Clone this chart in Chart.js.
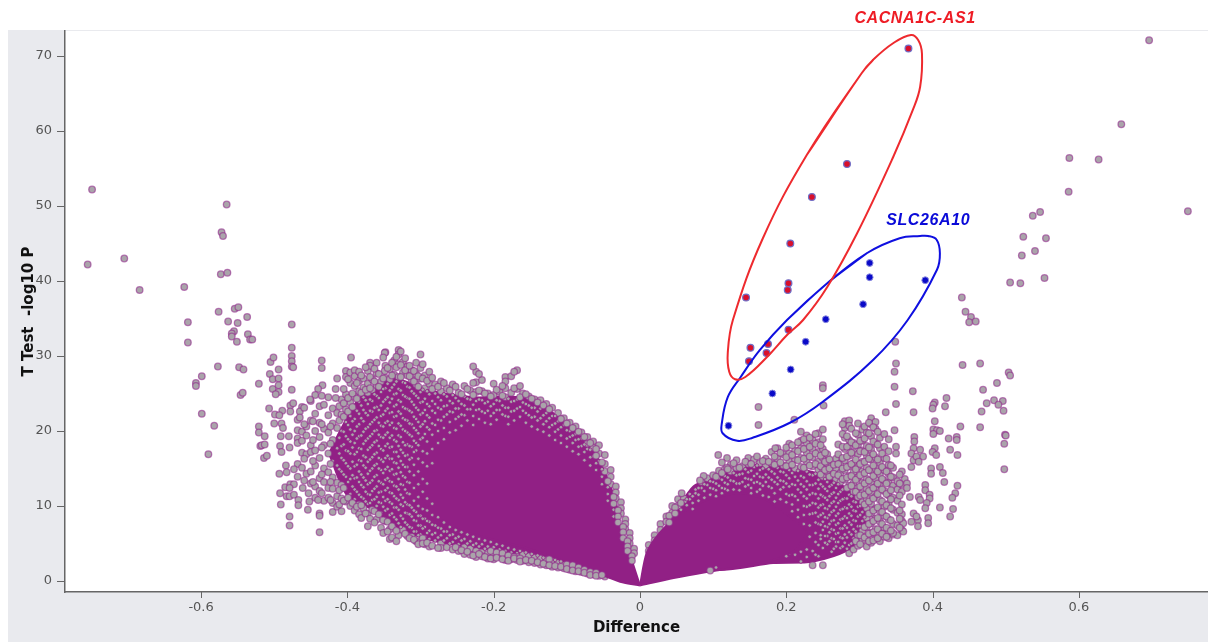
<!DOCTYPE html>
<html><head><meta charset="utf-8">
<style>html,body{margin:0;padding:0;background:#fff}#w{width:1208px;height:642px}canvas{filter:blur(.5px)}</style>
<script src="https://cdn.jsdelivr.net/npm/chart.js@4"></script></head>
<body><div id="w"><canvas id="c" width="1208" height="642"></canvas></div>
<script>
const xTicks=[-0.75,-0.7,-0.65,-0.6,-0.55,-0.5,-0.45,-0.4,-0.35,-0.3,-0.25,-0.2,-0.15,-0.1,-0.05,0,0.05,0.1,0.15,0.2,0.25,0.3,0.35,0.4,0.45,0.5,0.55,0.6,0.65,0.7,0.75];
const yTicks=[0,2,4,6,8,10,12,14,16,18,20,22,24,26,28,30,32,34,36,38,40,42,44,46,48,50,52,54,56,58,60,62,64,66,68,70,72];
const xLabels=[-0.6,-0.4,-0.2,0,0.2,0.4,0.6];
const yLabels=[0,10,20,30,40,50,60,70];
const outliers=[[-.749,52.2],[-.755,42.2],[-.705,43],[-.684,38.8],[-.623,39.2],[-.618,34.5],[-.618,31.8],[-.599,27.3],[-.607,26.4],[-.607,26],[-.599,22.3],[-.582,20.7],[-.59,16.9],[-.577,28.6],[-.565,50.2],[-.572,46.5],[-.57,46],[-.573,40.9],[-.564,41.1],[-.576,35.9],[-.563,34.6],[-.554,36.3],[-.549,36.5],[-.55,34.4],[-.537,35.2],[-.555,33.3],[-.558,33],[-.558,32.6],[-.551,31.9],[-.536,32.9],[-.533,32.2],[-.53,32.2],[-.548,28.5],[-.542,28.2],[-.546,24.8],[-.543,25.1],[-.521,26.3],[-.521,20.6],[-.521,19.8],[-.513,19.3],[-.519,18],[-.517,18.1],[-.513,18.2],[-.514,16.4],[-.51,16.7],[-.507,23],[-.506,27.6],[-.505,29.2],[-.501,29.8],[-.502,26.9],[-.494,27],[-.494,28.2],[-.502,25.6],[-.494,26.1],[-.494,25.2],[-.498,24.9],[-.489,22.7],[-.499,22.2],[-.493,22.1],[-.5,21],[-.49,21],[-.488,20.4],[-.491,19.3],[-.48,19.3],[-.492,18],[-.49,17.2],[-.479,17.8],[-.476,34.2],[-.476,31.1],[-.476,30],[-.476,29.3],[-.476,28.6],[-.474,28.5],[-.476,25.5],[-.478,23.4],[-.474,23.7],[-.478,22.6],[-.493,14.3],[-.484,15.4],[-.483,14.5],[-.473,14.9],[-.485,12.5],[-.478,12.9],[-.473,12.9],[-.479,12.4],[-.492,11.7],[-.483,11.3],[-.479,11.3],[-.473,11.5],[-.491,10.2],[-.467,10.8],[-.467,10.1],[-.479,8.6],[-.479,7.4],[-.461,12.4],[-.453,11.7],[-.452,10.6],[-.454,9.5],[-.44,10.8],[-.438,9],[-.438,8.7],[-.438,6.5],[-.465,22.6],[-.459,23.1],[-.465,21.8],[-.435,29.4],[-.435,28.4],[-.395,29.8],[-.434,26.1],[-.44,25.6],[-.444,24.8],[-.451,24.2],[-.416,25.6],[-.416,24.4],[-.369,29.1],[-.369,28.7],[-.349,28],[-.349,30.4],
[.696,72.1],[.658,60.9],[.587,56.4],[.627,56.2],[.586,51.9],[.749,49.3],[.547,49.2],[.537,48.7],[.524,45.9],[.555,45.7],[.54,44],[.522,43.4],[.506,39.8],[.52,39.7],[.553,40.4],[.44,37.8],[.445,35.9],[.4525,35.2],[.45,34.5],[.459,34.6],[.349,31.9],[.35,29],[.348,27.9],[.348,25.9],[.35,23.6],[.336,22.5],[.373,25.3],[.374,22.5],[.348,20.1],[.441,28.8],[.465,29],[.504,27.8],[.506,27.4],[.488,26.4],[.469,25.5],[.484,24.1],[.474,23.7],[.496,24],[.49,23.5],[.497,22.7],[.467,22.6],[.465,20.5],[.499,19.5],[.5,19.4],[.498,18.3],[.498,14.9],[.419,24.4],[.403,23.8],[.401,23.5],[.4,23],[.417,23.3],[.403,21.3],[.438,20.6],[.401,20.2],[.406,20.1],[.41,20],[.401,19.6],[.422,19],[.433,19.2],[.433,18.8],[.424,17.5],[.434,16.8],[.403,17.7],[.4,17.2],[.405,16.8],[.398,15],[.398,14.3],[.41,15.2],[.414,14.4],[.416,13.2],[.434,12.7],[.431,11.7],[.427,11.1],[.41,9.8],[.428,9.6],[.424,8.6],[.394,8.4],[.394,7.7],[.39,12.8],[.39,12.1],[.396,11.5],[.396,11],[.392,10.4],[.39,9.7],[.38,8.1],[.38,7.3],[.375,19.2],[.375,18.6],[.374,17.7],[.371,17],[.374,16.1],[.371,15.2],[.383,17.5],[.387,16.6],[.378,16.6],[.381,15.9],[.35,17.9],[.35,17],[.362,13.6],[.365,13],[.365,12.4],[.381,11.2],[.369,11.2],[.383,10.8],[.374,9],[.378,8.6],[.371,7.9],[.36,7.7],[.36,6.6],[.346,6.4],[.25,26.1],[.25,25.7],[.162,23.2],[.162,20.8],[.251,23.4],[.211,21.5],[.185,17.7],[.107,16.8],[.119,16.4],[.112,15.8],[.119,15.1],[.087,14],[.082,13.4],[.057,11.7],[.062,10.6]];
const leftColX=[-.468,-.462,-.456,-.45,-.444,-.438,-.432,-.426,-.42,-.414,-.408,-.402,-.396,-.39,-.384,-.378,-.372,-.366,-.36,-.354,-.348,-.342,-.336,-.33,-.324,-.318,-.312,-.306,-.3,-.294,-.288,-.28,-.272,-.264,-.256,-.248,-.24,-.232,-.224,-.216,-.208,-.2,-.192,-.184,-.176,-.168,-.16,-.152,-.144,-.136,-.128,-.12,-.112,-.104,-.096,-.088,-.08,-.072,-.064,-.056,-.048,-.04,-.033,-.026,-.02,-.014,-.008];
const leftColY=[
[20.1,19,18.4,15.6,13.9,21.5],[18.7,17.1,15.1,19.9,23.2],[19.4,20.6,16.9,14.3],[21.4,18.1,14.6,13,17.2,24],[22.3,20,17.4,12.6,11.1,15.4],[21.1,19.2,16.4,13.7,12,23.3],[23.5,20.3,18.1,15,13.2,10.7],[22.1,19.8,17,14.5,12.4,11.1,24.5],[23,21,18.8,16,13.8,12.3,10.4,9.2],[22.4,20.4,17.7,15.4,13.1,11.3,9.9,27],[24.2,22.2,20,18,16.4,14.6,12.8,11,9.3],[28,27.2,24.9,22.9,21.2,19.3,17.4,15.7,13.9,12.3,10.6],[27.8,26.4,23.8,22,20.2,18.6,17,15,13.6,11.6,10],
[28.1,27.3,26,24.6,23,21.6,20,18.4,16.9,15.3,13.7,12.2,10.9,9.4],[27.9,26.7,25.3,23.9,22.3,20.9,19.3,17.7,16.1,14.6,13.2,11.5,10.2,8.9],[27,25.8,24.5,22.8,21.3,19.9,18.3,16.7,15.4,13.8,12.5,11,9.7],[28,26.3,25.1,23.6,22.1,20.5,19,17.5,15.9,14.3,12.9,11.6,10.3,9,7.3],[26.9,25.5,24,22.6,21.2,19.6,18.1,16.5,15,13.4,12,10.8,9.5],[29.1,27.7,26.1,24.7,23.2,21.8,20.1,18.7,17.1,15.6,14.1,12.6,11.2,10,8.2],[26.6,25.2,23.4,22,20.7,19.2,17.6,16.2,14.8,13.1,11.9,10.4,9.1,7.1],[30.5,28.7,27.1,25.7,24.2,22.7,21.1,19.5,18,16.4,14.9,13.5,12.1,10.7,9.4,8],[28.2,26.9,25.4,23.8,22.4,20.8,19.1,17.8,16.3,14.7,13.3,11.8,10.5,8.8,6.9,5.6],[29.4,27.5,26.2,24.9,23.3,21.9,20.4,18.8,17.2,15.8,14.2,12.7,11.3,9.8,8.5],[30.8,30.2,28.9,27.2,25.6,24.1,22.6,21,19.4,18,16.6,15.1,13.6,12.2,10.8,9.5,7.7,6.1],[29.2,27.8,26.5,24.8,23.2,21.7,20.2,18.5,17.1,15.5,14,12.8,11.1,10,8.3,6.8],[28.6,27.4,25.9,24.4,22.9,21.4,19.8,18.2,16.8,15.2,13.2,11.7,10.2,9,7.5,6],[28.1,26.8,25.3,23.9,22.5,20.9,19.3,17.9,16.4,9.8,8.6,7.1,5.9],[29.1,27.6,26.2,24.7,23.1,21.6,20.1,18.4,17.4,9.2,8,6.6,5.3],[30.2,28.4,27,25.2,23.8,22.2,20.6,18.9,8.7,7.4,6.2,5.2],[27.4,25.7,24.3,22.8,21.3,19.6,8.3,7.2,5.9,4.9],[27.9,26.3,24.9,23.3,21.8,20.2,7.9,6.7,5.6,4.6],[26.2,25,23.6,22.4,20.8,7.4,6.4,5.4],[26.6,25.3,24.1,22.9,21.4,7,6.1,5,4.4],[25.7,24.6,23.4,22.2,6.6,5.7,4.5],[26.2,24.8,23.7,22.5,6.2,5.2,4.2],[25.1,24,23,21.9,5.9,4.9,4],[26,24.6,23.4,22.1,5.6,4.5,3.6],[25.4,24.2,22.9,5.3,4.3,3.5],[27.9,26.5,25.2,24,22.8,5,4,3.2],[26.8,25.3,24.1,22.6,4.9,3.8,3.3],[25,23.9,22.7,4.6,3.6,3],[26.3,24.8,23.6,22.4,4.5,3.5,2.9],[25.2,24,22.8,4.2,3.3],[27.2,26.6,25.7,24.5,23.1,22,4,3.1,2.8],[27.3,25.1,23.9,22.6,3.8,2.9],[28.1,25.6,24.2,23,3.7,2.8,3.2],[25,23.8,22.7,3.5,2.7],[24.6,23.4,22.1,3.3,2.5],[24.2,23.1,21.9,3.1,2.4],[24.1,23,21.7,3,2.2],[23.6,22.4,21.3,2.8,2.1],[23.1,22,20.8,2.7,1.9],[22.4,21.3,20.2,2.5,1.8],[21.7,20.8,2.3,1.7],[21.1,20,19.2,2,1.5],[20.6,19.6,18.8,1.9,1.3],[19.8,19,18,1.6,1.2],[19.2,18.3,17.6,1.4,1],[18.6,17.8,16.6,1.2,.9],[18.1,17,16,1,.7],[16.8,15.6,14.6,.9,.6],[14.8,13.9,12.9],[12.6,11.8,11],[10.5,9.7,9],[8.2,7.6,6.9],[6.4,5.7,5],[4.3,3.7]];
const leftColX2=[-.459,-.447,-.435,-.423,-.411,-.405,-.399,-.393,-.387,-.381,-.375,-.369,-.363,-.357,-.351,-.345,-.339,-.333,-.327,-.321,-.315,-.309,-.303,-.297,-.291,-.284,-.276,-.268,-.26,-.252,-.244,-.236,-.228,-.22,-.212,-.204,-.196,-.188,-.18,-.172,-.164,-.156,-.148,-.14,-.132,-.124,-.116,-.108,-.1,-.092,-.084,-.076,-.068,-.06,-.052,-.044,-.036,-.03,-.023,-.017,-.011];
const leftColY2=[
[16.3,20.9,13.4],[18.8,16,13.2,21.3],[24.7,20.9,17.8,14.2,11.7],[20.6,18.3,15.6,13.2,10.8],[23.3,21.4,19.1,17,14.9,12.1,10.2],[25.6,23.7,21.9,19.9,18.2,16.1,14.2,12.4,10.7],[26.9,24.4,22.6,20.8,18.9,17.3,15.3,13.2,11.1],[25,23.2,21.3,19.5,17.8,15.9,14.1,12.6,10.4],[26.4,24.3,22.7,20.6,19,17.2,15.5,13.8,11.9,9.9],[27.4,25.1,23.4,21.7,19.4,17.6,16,14.2,12.8,11.2,10.1,8.4],[28.5,25.5,24.1,22.4,20.3,18.7,16.5,15.1,13.4,11.9,10.6,9],[27.2,25.7,24.2,22.7,20.9,19.3,17.8,16.2,14.7,13.1,11.5,10.4,8.3],[28.3,26.6,24.9,23.1,21.5,20,18.5,16.9,15.4,13.9,12.3,10.9,9.3,7.8],[27.6,25.9,24.4,22.8,21.1,19.5,18,16.4,15,13.3,11.8,10.5,8.9],[29.8,27,25.6,23.9,22.2,20.6,19.1,17.4,15.9,14.4,12.9,11.2,9.9,8.1,6.4],[28.4,26.3,24.5,23,21.3,19.8,18.3,16.7,15.2,13.7,12.4,10.9,9.6,7.9,6.6],[29.1,27.4,25.8,24.3,22.5,21.1,19.4,17.9,16.3,14.9,13.2,11.7,10.3,9,7.3,5.8],[29.9,28.5,26.6,25,23.5,22,20.3,18.6,17.2,15.7,14.3,12.6,11,9.8,8.2,6.7,5.3],[30.6,28.8,27.2,25.4,23.9,22.3,20.7,19.2,17.5,16,14.5,12.9,11.5,10.2,8.7,7.2],[29.7,28.1,26.4,24.6,23,21.5,20,18.1,16.7,15.2,13.8,12.2,10.5,9.1,7.8,6.3],[28.7,27.3,25.8,24.3,22.7,21,19.5,18,16.2,14.6,13.1,11.6,10.1,8.9,7.2,5.7],[28,26.6,25,23.5,21.9,20.4,18.7,17.2,15.5,14.1,12.4,10.7,9.4,8.1,6.6,5.5],[27.3,25.9,24.4,22.8,21.2,19.7,18.1,16.3,14.6,12.9,11.2,10,8.7,7.4,6.1,4.9],[28.9,27,25.5,23.9,22.4,20.9,19.1,17.3,15.8,13.6,11.9,9.6,8.3,7,5.7,5],[26.7,25.3,23.6,22.1,20.5,18.6,17,15.3,13,11,9.4,8,6.4,5.1],[27.1,25.6,24,22.7,21,19.5,17.6,15.7,10.3,8.8,7.5,6.2,4.7],[25.9,24.5,23.1,21.5,20,18.4,8.5,7.1,5.8,4.4],[26.4,24.9,23.3,21.9,20.4,18.9,7.8,6.6,5.4],[25.4,24,22.6,21.2,19.8,7.2,6.1,5],[25.9,24.4,23,21.6,20.1,6.8,5.7,4.5],[24.9,23.6,22.2,20.7,6.5,5.4,4.1],[25.6,24.3,22.9,21.4,6.2,5,3.9],[28.6,26.4,24.8,23.5,22,20.8,5.9,4.8,3.4],[27.6,25.4,24.2,22.9,21.6,5.6,4.6,3.6],[25,23.7,22.4,21.1,5.4,4.3,3.2],[24.6,23.3,22,20.9,5.2,4,3],[25.5,24.1,22.8,21.5,4.9,3.8,3.1],[26,24.7,23.4,22.2,4.7,3.7,2.9],[24.3,23.1,21.9,20.9,4.4,3.4,2.7],[27.9,25.7,24,22.7,21.4,4.2,3.2,3],[26,24.5,23.2,21.9,4,3,2.6],[24.9,23.6,22.4,21.1,3.8,2.8],[24.3,23.1,21.8,20.6,3.6,2.7],[23.8,22.6,21.4,20.2,3.4,2.5],[23.4,22.1,20.9,19.9,3.1,2.3],[22.9,21.7,20.5,19.4,2.9,2.1],[22,21,19.9,18.8,2.8,2],[21.6,20.5,19.4,18.4,2.6,1.9],[21,20.1,19,17.9,2.2,1.6],[20.4,19.4,18.4,17.3,2.1,1.4],[19.9,18.9,17.9,16.9,1.8,1.3],[19.2,18.2,17.2,16.1,1.5,1.1],[18.4,17.5,16.5,15.4,1.2,.8],[17.6,16.7,15.7,14.8,1.1,.7],[15.8,14.9,13.9,12.9,.8],[13.3,12.5,11.6,10.7],[11.2,10.3,9.5,8.6],[9.4,8.6,7.8],[7.2,6.5,5.7],[5.3,4.6,4],[3.3,2.7]];
const rightColX=[.012,.02,.028,.036,.044,.052,.06,.068,.076,.084,.092,.1,.108,.116,.124,.132,.14,.148,.156,.164,.172,.18,.188,.196,.204,.212,.22,.228,.236,.244,.25,.256,.262,.268,.274,.28,.286,.292,.298,.304,.31,.316,.322,.328,.334,.34,.346,.352,.358];
const rightColY=[
[4.8,4],[6.1,5.4],[7.6,6.8],[8.6,7.9,1.1],[10,9.1,.9],[10.9,10,1.2],[11,10.6,1.3],[11.6,10.9,1.4],[12.2,11.7,1.6],[13.2,12.4,1.8],[13.7,12.8,1.7,2],[14.1,13.2,12.3,2.2],[14.7,13.7,12.7,2.1],[14.9,14,13.1,12.3,2.4],[15.5,14.6,13.4,2.4,2.6],[16.1,15.1,14.1,13,2.7],[15.3,14.3,13.2,2.6,2.9],[16.4,15.6,14.5,13.6,12.8,2.8],[16.2,15.2,14,13.1,3],[15.7,14.8,13.9,13,12.2,3.1],[16.3,15.4,14.2,13.2,3.2],[17.2,15.7,14.6,13.5,12.4,3.4],[17.7,16.3,15.1,13.8,12.9,3.3],[16.9,15.4,14.5,13.3,12.5,3.6],[18.3,17,15.9,14.8,13.7,12.6,11.4,3.7],[17.4,16.2,15,13.9,12.8,11.3,3.5],[19.9,18.7,17.7,16.4,15.2,14,12.9,11.8,2.6,3.9],[19.4,18.4,17.1,15.9,14.6,13.3,12.2,11,9.9,3.2,4.2],[18.8,17.6,16.5,15.3,14.1,12.8,11.7,10.4,9,2.1,4],[19.7,18.5,17.2,15.9,14.8,13.5,12.3,11,9.8,8.6,7.6,3.3,4.8],[20.2,18.9,17.6,16.4,15,13.9,12.6,11.3,10.2,9,7.9,6.8,2.1,4.4],[16.9,15.7,14.6,13.2,12,10.8,9.6,8.4,7.2,6,4.9],[15.3,14,12.8,11.6,10.4,9.2,8,6.9,5.7,3.9],[16.3,15,13.6,12.4,11.1,9.9,8.7,7.5,6.3,5.2,4.6],[15.7,14.4,13.2,11.9,10.7,9.5,8.2,7,5.8,4.4],[21.3,20.4,19.1,17.6,16.1,14.8,13.5,12.3,11,9.8,8.6,7.4,6.2,5.1],[21.4,20.7,18.8,18,16.7,15.3,14,12.7,11.5,10.2,9,7.8,6.5,4.8,3.7],[18.4,17.2,15.7,14.5,13.1,11.9,10.6,9.4,8.1,6.9,5.7,4.2],[21,19.5,18.1,16.9,15.2,13.8,12.4,11.2,9.9,8.6,7.3,6.1,4.7],[20.2,18.7,17.4,15.9,14.6,13.1,11.7,10.5,9.2,8,6.7,5.4],[19.8,18,16.7,15.1,13.6,12.3,11,9.7,8.4,7.2,5.9,4.6],[21.7,20.9,19.3,17.5,16.2,14.7,13.2,11.8,10.3,9,7.7,6.4,5.1],[21.2,20.3,18.3,16.5,15,13.7,12.5,11.2,9.6,8.3,6.9,5.6],[19.1,17.7,15.8,14.2,12.9,10.8,9.3,7.9,6.4,5.3],[19.6,17.9,16.4,14.8,13.4,12,9.9,8.7,7.1,5.9],[18.9,17.3,15.5,14.3,13.1,11.4,10.3,8.2,6.7,5.7],[15.1,13.8,12.7,11.1,9.5,7.6,6.2],[13.3,12.2,10.7,9.1,7.4,6.1],[14.6,12.9,11.9,10.2,8.9,8,6.8]];
const rightColX2=[.04,.048,.056,.064,.072,.08,.088,.096,.104,.112,.12,.128,.136,.144,.152,.16,.168,.176,.184,.192,.2,.208,.216,.224,.232,.24,.247,.253,.259,.265,.271,.277,.283,.289,.295,.301,.307,.313,.319,.325,.331,.337,.343,.355];
const rightColY2=[
[8.7,7.8],[9.8,9],[10.4,9.5],[10.9,10.1],[11.3,10.4,9.6],[12.4,11.5,10.7],[12.9,12,11.1],[13.3,12.4,11.5,1.4],[13.9,13,12.1,11.3,1.8],[14.4,13.5,12.4,11.7],[14.9,13.8,12.9,12.1],[15.7,14.4,13.3,12.2],[15.1,14.2,13,12.1],[15.9,14.9,13.7,12.6],[15.6,14.7,13.5,12.4,11.7],[16.6,15.4,14.3,13.2,11.9],[16,15,13.8,12.7,11.4],[15.9,14.9,13.8,12.6,11.2],[16.6,15.5,14.3,13.2,11.7,10.6],[17.1,15.8,14.6,13.4,12.2,10.9],[17.8,16.5,15.3,14.1,13,11.6,10.5,3.3],[18.1,16.8,15.5,14.4,12.9,11.5,10.2,9.3],[18.5,17.3,16.1,14.7,13.4,12.2,10.8,9.5,8.5],[18.9,17.6,16.3,15.1,13.8,12.6,11.3,10,8.8,7.6],[19.1,17.9,16.6,15.4,14.2,12.8,11.5,10.1,8.9,7.4,5.9],[19.6,18.3,17,15.6,14.3,13,11.6,10.3,9.1,7.8,6.4,5.2,3.5],[18.1,16.7,15.3,14.2,12.9,11.5,10.1,8.8,7.5,6.1,5.6],[17.1,15.9,14.8,13.6,12.3,11.1,9.7,8.5,7.3,6,5.1],[16.2,15,13.9,12.6,11.3,10,8.8,7.6,6.5,5.3],[15.5,14.3,13.1,11.8,10.6,9.4,8.1,6.8,5.6,4.3],[18.2,16.9,15.6,14.1,12.9,11.6,10.4,9,7.7,6.4,5.2],[20.9,19.6,17.9,16.4,15,13.6,12.2,10.9,9.6,8.3,7,5.7,4.6],[19.3,17.9,16.6,15.2,13.8,12.4,11,9.7,8.4,7.1,5.8,4.3],[20.3,18.5,17.1,15.6,14,12.7,11.3,9.9,8.7,7.5,6.2,5],[19.7,18.1,16.2,14.9,13.5,11.9,10.5,9.3,8,6.6,5.3],[18.7,17.3,15.6,14.1,12.6,11.4,10,8.8,7.3,6.1,4.9],[20.6,19,17.2,15.9,14.4,13,11.5,10.2,8.5,7.2,5.8],[21.1,19.7,17.8,16.3,14.8,13.4,12,10.6,9,7.6,6.3,5.3],[20.5,18.6,16.9,15.4,14,12.4,11,9.4,8,6.5,5.4],[19.9,18.2,16.2,14.6,13,11.6,9.8,8.4,6.9,5.7],[17,15.2,13.6,12.2,10.6,9.2,7.6,6.3],[16.3,14.6,13,11.6,10.1,8.6,7.1,5.9],[15.4,13.9,12.1,10.9,9.7,8.1,6.7],[14.2,13,11.4,9.4,8.3,7.1]];
const leftCore=[[0,-.6],[-.0113,2.8],[-.023,6.4],[-.0365,10.4],[-.052,13.9],[-.073,16.8],[-.1,19.2],[-.137,20.8],[-.182,21.2],[-.228,21],[-.264,19.2],[-.292,17],[-.305,14.4],[-.301,11.2],[-.278,8.6],[-.246,6.8],[-.2,5.5],[-.155,4.4],[-.109,2.8],[-.064,1.25],[-.027,-.1],[0,-.6]];
const leftMid=[[-.425,17],[-.41,20],[-.383,24.4],[-.337,27],[-.292,25.5],[-.228,24.5],[-.164,24.5],[-.128,23],[-.087,19.9],[-.055,15.9],[-.03,8.5],[-.064,1.5],[-.128,3],[-.191,4],[-.246,4.7],[-.292,5.6],[-.328,7],[-.365,9.5],[-.401,11.5],[-.425,17]];
const rightCore=[[0,-.6],[.009,3.7],[.027,6.4],[.055,9],[.091,10.8],[.137,11.7],[.173,10.8],[.205,8.6],[.228,6.5],[.21,4],[.182,2.8],[.137,1.9],[.091,1.2],[.046,.4],[0,-.6]];
const rightMid=[[.02,5],[.046,8.6],[.073,12.6],[.114,14.2],[.15,15.5],[.196,15.2],[.237,14.5],[.28,12.5],[.31,9],[.29,4.5],[.237,2.6],[.182,2.4],[.1,1.5],[.02,5]];
const redPoints=[[.367,71],[.283,55.6],[.235,51.2],[.2055,45],[.203,39.7],[.202,38.8],[.145,37.8],[.203,33.5],[.151,31.1],[.175,31.6],[.173,30.4],[.149,29.3]];
const bluePoints=[[.314,42.4],[.314,40.5],[.39,40.1],[.305,36.9],[.254,34.9],[.2265,31.9],[.206,28.2],[.181,25],[.121,20.7]];
const redOval=[[.228,56.8],[.303,67.7],[.3188,69.5],[.346,71.7],[.3705,72.8],[.3805,72.1],[.3855,70.3],[.383,65.9],[.373,62.8],[.346,56.5],[.297,46.4],[.256,39.2],[.223,34.8],[.201,32.8],[.174,29.9],[.144,27.2],[.13,26.9],[.122,27.9],[.12,30.4],[.127,34.8],[.168,45.7],[.228,56.8],[.303,67.7],[.3188,69.5]];
const blueOval=[[.201,34.8],[.256,39.7],[.31,43.7],[.355,45.7],[.383,46],[.394,46],[.4055,45.5],[.41,43.7],[.406,41.5],[.366,34.8],[.319,29.5],[.25,23.9],[.205,21.1],[.154,19.1],[.133,18.7],[.113,19.7],[.112,21.1],[.12,24.5],[.137,27.1],[.164,30.8],[.201,34.8],[.256,39.7],[.31,43.7]];
const labelsText=[{t:'CACNA1C-AS1',x:.376,y:75.05,c:'#ee1c25'},{t:'SLC26A10',x:.394,y:48.0,c:'#0a0ad8'}];

const toPts=a=>a.map(p=>({x:p[0],y:p[1]}));
const cols=(X,Y)=>X.flatMap((x,i)=>Y[i].map(y=>({x,y})));
const inside=(P,x,y)=>{let c=false;for(let i=0,j=P.length-1;i<P.length;j=i++){if((P[i][1]>y)!==(P[j][1]>y)&&x<(P[j][0]-P[i][0])*(y-P[i][1])/(P[j][1]-P[i][1])+P[i][0])c=!c;}return c;};
const inMass=c=>c.raw&&(inside(leftMid,c.raw.x,c.raw.y)||inside(rightMid,c.raw.x,c.raw.y));
const PURPLE='#912085';
const poly=(a,o)=>({data:toPts(a),showLine:true,fill:'shape',backgroundColor:PURPLE,borderColor:PURPLE,borderWidth:2,pointRadius:0,tension:.25,order:o,clip:false});
const pts=(d,o)=>({data:d,showLine:false,pointRadius:c=>inMass(c)?1.8:3.3,pointBorderWidth:c=>inMass(c)?.8:1.3,pointBackgroundColor:'#aaa4aa',pointBorderColor:c=>inMass(c)?PURPLE:'rgba(145,45,140,.62)',order:o,clip:false});
const oval=(a,c)=>({data:toPts(a),showLine:true,fill:false,borderColor:c,borderWidth:2,pointRadius:0,tension:.4,order:1,clip:false});

const panel={id:'panel',beforeDraw(ch){const g=ch.ctx,a=ch.chartArea;g.save();g.fillStyle='#fff';g.fillRect(0,0,1208,642);g.fillStyle='#e9eaee';g.fillRect(8,30,1200,612);g.fillStyle='#fff';g.fillRect(a.left,a.top,a.right-a.left,a.bottom-a.top);g.restore();},
afterDraw(ch){const g=ch.ctx,xs=ch.scales.x,ys=ch.scales.y,a=ch.chartArea;g.save();
g.strokeStyle='#666';g.lineWidth=1;g.beginPath();
yLabels.forEach(v=>{const p=Math.round(ys.getPixelForValue(v))+.5;g.moveTo(a.left-8,p);g.lineTo(a.left,p);});
xLabels.forEach(v=>{const p=Math.round(xs.getPixelForValue(v))+.5;g.moveTo(p,a.bottom);g.lineTo(p,a.bottom+6);});
g.stroke();
g.font='italic bold 16px "Liberation Sans"';g.letterSpacing='0.6px';g.textAlign='center';g.textBaseline='middle';
labelsText.forEach(l=>{g.fillStyle=l.c;g.fillText(l.t,xs.getPixelForValue(l.x),ys.getPixelForValue(l.y));});
g.restore();}};

const tickFont={family:'"DejaVu Sans"',size:13};
new Chart(document.getElementById('c'),{type:'scatter',plugins:[panel],data:{datasets:[
poly(leftMid,12),poly(rightMid,12),
pts(cols(leftColX,leftColY),11),pts(cols(rightColX,rightColY),11),pts(toPts(outliers),10),
poly(leftCore,6),poly(rightCore,6),
pts(cols(leftColX2,leftColY2),5),pts(cols(rightColX2,rightColY2),5),
{data:toPts(redPoints),showLine:false,pointRadius:3.4,pointBorderWidth:1.2,pointBackgroundColor:'#d8102c',pointBorderColor:'#6f6fc8',order:3},
{data:toPts(bluePoints),showLine:false,pointRadius:3.4,pointBorderWidth:1,pointBackgroundColor:'#0a0ac8',pointBorderColor:'#8c8ce0',order:3},
oval(redOval,'#ee2a2e'),oval(blueOval,'#0f0fe0')
]},options:{responsive:false,animation:false,layout:{autoPadding:false,padding:{top:31,left:0,right:0,bottom:0}},
plugins:{legend:{display:false},tooltip:{enabled:false}},
scales:{
x:{type:'linear',min:-.786,max:.7765,afterFit(s){s.height=50;s.paddingLeft=0;s.paddingRight=0},afterBuildTicks(s){s.ticks=xTicks.map(v=>({value:v}))},
 grid:{display:false,drawOnChartArea:false,drawTicks:true,tickLength:4,tickColor:'#666'},border:{display:true,color:'#666',width:1.5},
 ticks:{autoSkip:false,maxRotation:0,color:'#555',font:tickFont,padding:4,callback:v=>xLabels.some(k=>Math.abs(k-v)<1e-6)?String(Math.round(v*10)/10):''},
 title:{display:true,text:'Difference',color:'#111',font:{family:'"DejaVu Sans"',size:15,weight:'bold'},padding:{top:0,bottom:5}}},
y:{type:'linear',min:-1.467,max:73.33,afterFit(s){s.width=65;s.paddingTop=0;s.paddingBottom=0},afterBuildTicks(s){s.ticks=yTicks.map(v=>({value:v}))},
 grid:{display:false,drawOnChartArea:false,drawTicks:true,tickLength:4,tickColor:'#666'},border:{display:true,color:'#666',width:1.5},
 ticks:{autoSkip:false,color:'#555',font:tickFont,padding:9,callback:v=>yLabels.includes(v)?String(v):''},
 title:{display:true,text:'T Test  -log10 P',color:'#111',font:{family:'"DejaVu Sans"',size:15,weight:'bold'},padding:{top:20,bottom:0}}}
}}});
</script></body></html>
